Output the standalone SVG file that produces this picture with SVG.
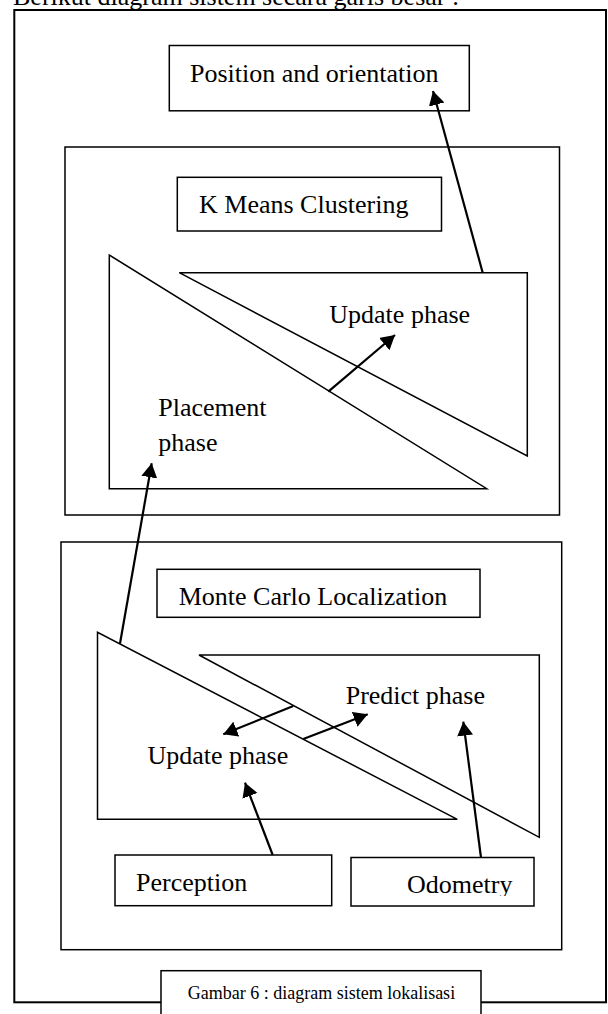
<svg xmlns="http://www.w3.org/2000/svg" width="608" height="1014" viewBox="0 0 608 1014">
  <style>
    .box { fill: none; stroke: #000; stroke-width: 1.5; }
    .frame { fill: none; stroke: #000; stroke-width: 2; }
    .lbl { font-family: "Liberation Serif", "Times New Roman", serif; font-size: 26px; fill: #000; }
    .cap { font-family: "Liberation Serif", "Times New Roman", serif; font-size: 18px; fill: #000; }
    .conn { fill: none; stroke: #000; stroke-width: 2.2; }
  </style>
  <defs>
    <marker id="arrow" markerUnits="userSpaceOnUse" markerWidth="16" markerHeight="18" refX="14" refY="8" orient="auto">
      <path d="M0,0 L14,8 L0,16 z" fill="#000"/>
    </marker>
    <clipPath id="odoClip">
      <rect x="351" y="858" width="183" height="38"/>
    </clipPath>
  </defs>
  <rect width="608" height="1014" fill="#fff"/>

  <text class="lbl" x="13" y="5">Berikut diagram sistem secara garis besar :</text>

  <g id="outer-frame">
    <rect class="frame" x="14.3" y="10" width="591.7" height="992.3"/>
  </g>

  <g id="position-orientation">
    <rect class="box" x="169.3" y="45.5" width="300" height="65.3"/>
    <text class="lbl" x="190" y="82">Position and orientation</text>
  </g>

  <g id="kmeans-group">
    <rect class="box" x="65" y="147" width="494.5" height="368"/>
  </g>

  <g id="kmeans-label">
    <rect class="box" x="177.3" y="177.3" width="264.2" height="53.7"/>
    <text class="lbl" x="199" y="213">K Means Clustering</text>
  </g>

  <g id="placement-phase">
    <polygon class="box" points="109.3,255 109.3,488.7 486.7,488.7"/>
    <text class="lbl" x="158.3" y="415.7">Placement</text>
    <text class="lbl" x="158.3" y="450.7">phase</text>
  </g>

  <g id="kmeans-update-phase">
    <polygon class="box" points="179.3,272.7 527.3,272.7 527.3,456"/>
    <text class="lbl" x="329.3" y="322.7">Update phase</text>
  </g>

  <g id="mcl-group">
    <rect class="box" x="61" y="542" width="500.7" height="407.7"/>
  </g>

  <g id="mcl-label">
    <rect class="box" x="157" y="569.3" width="323" height="48"/>
    <text class="lbl" x="178.7" y="605">Monte Carlo Localization</text>
  </g>

  <g id="mcl-update-phase">
    <polygon class="box" points="97.5,632.3 97.5,819.3 457.3,819.3"/>
    <text class="lbl" x="147.5" y="764">Update phase</text>
  </g>

  <g id="mcl-predict-phase">
    <polygon class="box" points="199,655 539.3,655 539.3,837.3"/>
    <text class="lbl" x="345.7" y="704">Predict phase</text>
  </g>

  <g id="perception">
    <rect class="box" x="115" y="855" width="216.7" height="50.7"/>
    <text class="lbl" x="136" y="890.7">Perception</text>
  </g>

  <g id="odometry">
    <rect class="box" x="351" y="857.5" width="183" height="48.5"/>
    <text class="lbl" x="407" y="892.5" clip-path="url(#odoClip)">Odometry</text>
  </g>

  <g id="caption">
    <rect x="161" y="970.7" width="320" height="60" fill="#fff" stroke="#000" stroke-width="1.5"/>
    <text class="cap" x="187.7" y="999">Gambar 6 : diagram sistem lokalisasi</text>
  </g>

  <g id="connectors">
    <line class="conn" x1="482.7" y1="272.7" x2="433" y2="91" marker-end="url(#arrow)"/>
    <line class="conn" x1="328.3" y1="391.7" x2="395" y2="335" marker-end="url(#arrow)"/>
    <line class="conn" x1="120" y1="643.5" x2="151.7" y2="463.3" marker-end="url(#arrow)"/>
    <line class="conn" x1="293.3" y1="706" x2="223.3" y2="734.3" marker-end="url(#arrow)"/>
    <line class="conn" x1="303.3" y1="739" x2="367.7" y2="714.3" marker-end="url(#arrow)"/>
    <line class="conn" x1="272.7" y1="855" x2="245" y2="782.7" marker-end="url(#arrow)"/>
    <line class="conn" x1="481" y1="857.5" x2="463.3" y2="721.7" marker-end="url(#arrow)"/>
  </g>
</svg>
